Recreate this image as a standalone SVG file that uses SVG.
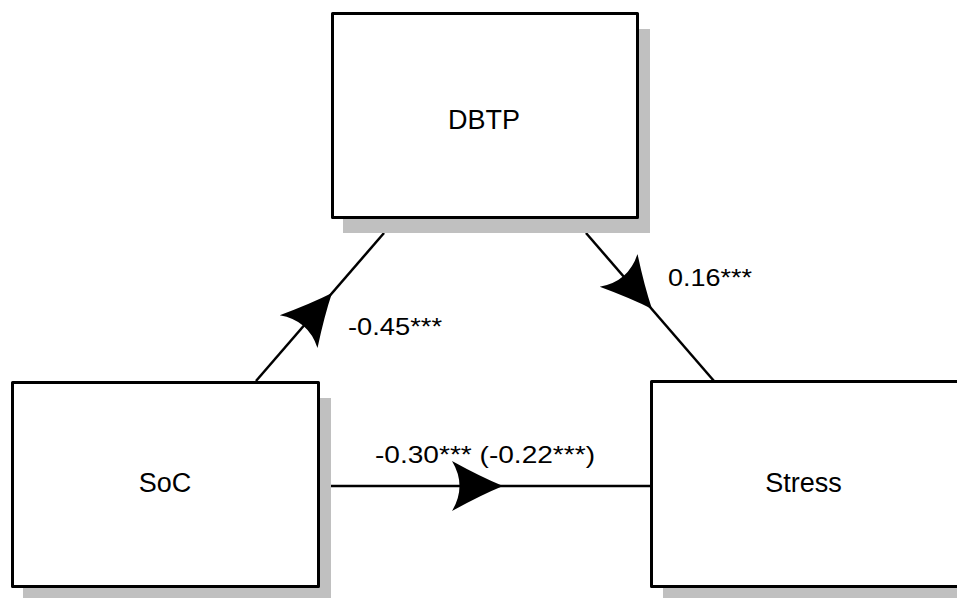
<svg xmlns="http://www.w3.org/2000/svg" width="957" height="598" viewBox="0 0 957 598">
<style>
.shadow{fill:#c0c0c0;stroke:none}
.box{fill:#ffffff;stroke:#000000;stroke-width:3;stroke-linejoin:round}
.node{font-family:"Liberation Sans",Arial,sans-serif;font-size:27px;fill:#000000;text-anchor:middle}
.lbl{font-family:"Liberation Sans",Arial,sans-serif;font-size:24px;fill:#000000}
.edge{stroke:#000000;stroke-width:2.5;fill:none}
.head{fill:#000000;stroke:none}
</style>
<defs>
<path id="ah" d="M0,0 Q-22,-9 -51,-25 Q-36,0 -51,25 Q-22,9 0,0 Z"/>
</defs>
<rect width="957" height="598" fill="#ffffff"/>
<g id="connectors">
<line class="edge" x1="256" y1="381" x2="384" y2="233"/>
<line class="edge" x1="586" y1="233" x2="714" y2="381"/>
<line class="edge" x1="331" y1="486" x2="651" y2="486"/>
<use href="#ah" class="head" transform="translate(332,293) rotate(-49.1)"/>
<use href="#ah" class="head" transform="translate(652,309) rotate(49.1)"/>
<use href="#ah" class="head" transform="translate(503,486)"/>
<text class="lbl" x="348" y="335" textLength="94" lengthAdjust="spacingAndGlyphs">-0.45***</text>
<text class="lbl" x="668" y="286" textLength="84" lengthAdjust="spacingAndGlyphs">0.16***</text>
<text class="lbl" x="375" y="463" textLength="220" lengthAdjust="spacingAndGlyphs">-0.30*** (-0.22***)</text>
</g>
<g id="node-dbtp">
<rect class="shadow" x="343" y="29" width="307" height="204"/>
<rect class="box" x="332.5" y="13.5" width="305" height="204"/>
<text class="node" x="484" y="129">DBTP</text>
</g>
<g id="node-soc">
<rect class="shadow" x="23" y="398" width="308" height="200"/>
<rect class="box" x="12.5" y="382.5" width="306" height="204"/>
<text class="node" x="165" y="492">SoC</text>
</g>
<g id="node-stress">
<rect class="shadow" x="663" y="398" width="310" height="200"/>
<rect class="box" x="651.5" y="381.5" width="310" height="205"/>
<text class="node" x="803.5" y="492">Stress</text>
</g>
</svg>
